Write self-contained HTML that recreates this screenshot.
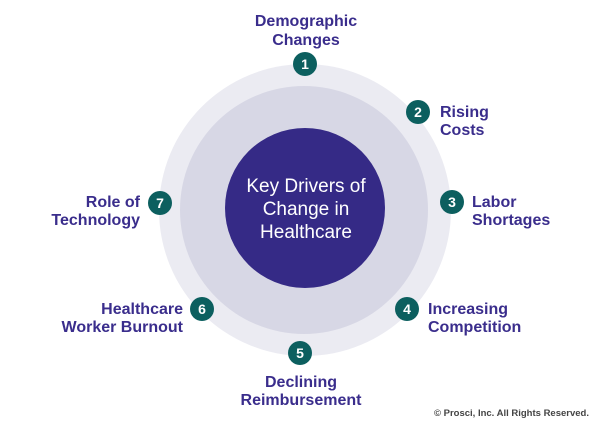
<!DOCTYPE html><html><head><style>
body{margin:0;width:600px;height:425px;background:#fff;overflow:hidden;font-family:"Liberation Sans",sans-serif}
svg{position:absolute;left:0;top:0}
</style></head><body>
<svg width="600" height="425" viewBox="0 0 600 425" font-family="Liberation Sans, sans-serif">
<circle cx="305" cy="210" r="146" fill="#ebebf2"/>
<circle cx="304" cy="210" r="124" fill="#d7d7e5"/>
<circle cx="305" cy="208" r="80" fill="#352a86"/>
<g fill="#fff" font-size="19" text-anchor="middle">
<text x="306" y="192">Key Drivers of</text>
<text x="306" y="215">Change in</text>
<text x="306" y="238">Healthcare</text>
</g>
<g fill="#0c5f5f">
<circle cx="305" cy="64" r="12"/><circle cx="418" cy="112" r="12"/><circle cx="452" cy="202" r="12"/>
<circle cx="407" cy="309" r="12"/><circle cx="300" cy="353" r="12"/><circle cx="202" cy="309" r="12"/><circle cx="160" cy="203" r="12"/>
</g>
<g fill="#fff" font-size="14" font-weight="bold" text-anchor="middle">
<text x="305" y="69">1</text><text x="418" y="117">2</text><text x="452" y="207">3</text>
<text x="407" y="314">4</text><text x="300" y="358">5</text><text x="202" y="314">6</text><text x="160" y="208">7</text>
</g>
<g fill="#3a2d8c" font-size="16" font-weight="bold">
<text x="306" y="26" text-anchor="middle">Demographic</text>
<text x="306" y="45" text-anchor="middle">Changes</text>
<text x="440" y="117">Rising</text><text x="440" y="135">Costs</text>
<text x="472" y="207">Labor</text><text x="472" y="225">Shortages</text>
<text x="428" y="314">Increasing</text><text x="428" y="332">Competition</text>
<text x="301" y="387" text-anchor="middle">Declining</text>
<text x="301" y="405" text-anchor="middle">Reimbursement</text>
<text x="183" y="314" text-anchor="end">Healthcare</text>
<text x="183" y="332" text-anchor="end">Worker Burnout</text>
<text x="140" y="207" text-anchor="end">Role of</text>
<text x="140" y="225" text-anchor="end">Technology</text>
</g>
<text x="589" y="416" text-anchor="end" font-size="9.5" font-weight="bold" fill="#444">© Prosci, Inc. All Rights Reserved.</text>
</svg>
</body></html>
